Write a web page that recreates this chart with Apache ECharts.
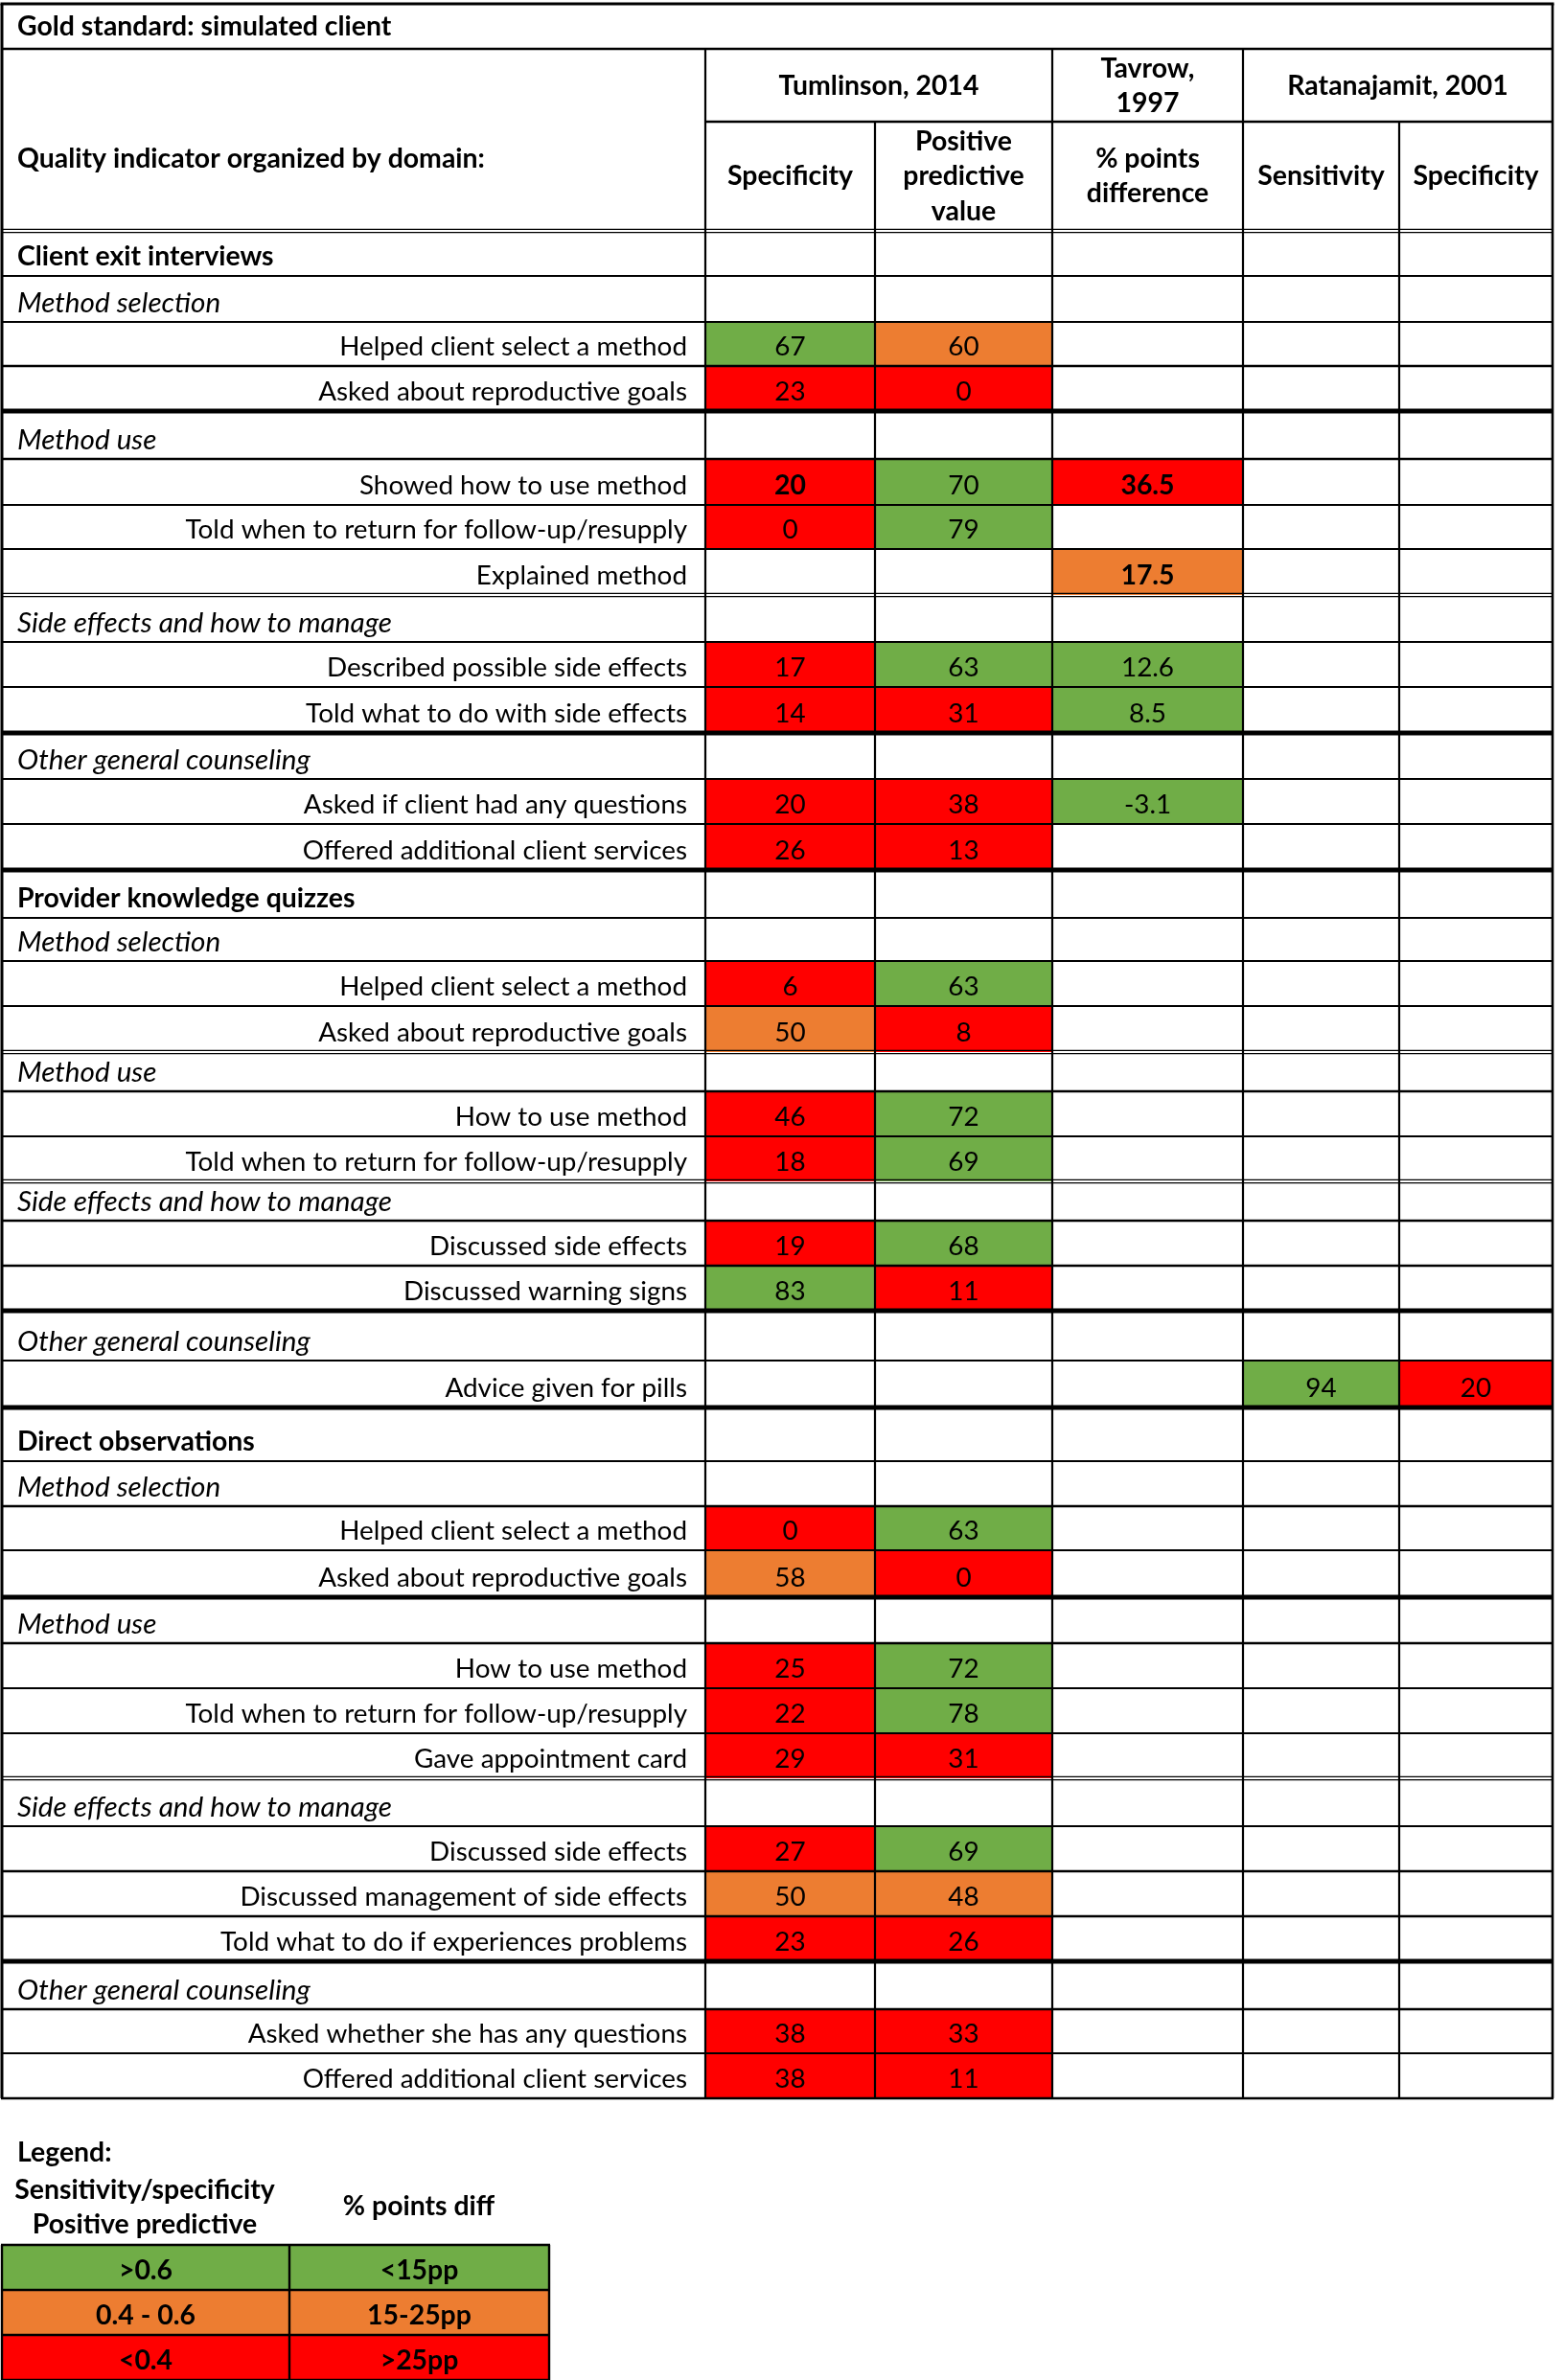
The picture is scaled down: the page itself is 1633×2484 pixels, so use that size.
<!DOCTYPE html>
<html><head><meta charset="utf-8">
<script src="https://cdn.jsdelivr.net/npm/echarts@6/dist/echarts.min.js"></script>
<style>html,body{margin:0;padding:0;background:#fff}#chart{width:1633px;height:2484px}</style>
</head><body><div id="chart"></div>
<script>
// ================= DATA =================
const tableTitle = 'Gold standard: simulated client';
const indicatorHeader = 'Quality indicator organized by domain:';
const studies = ['Tumlinson, 2014', 'Tavrow,\n1997', 'Ratanajamit, 2001'];
const measures = ['Specificity', 'Positive\npredictive\nvalue', '% points\ndifference', 'Sensitivity', 'Specificity'];

const indicators = [
  'Client exit interviews', 'Method selection', 'Helped client select a method', 'Asked about reproductive goals',
  'Method use', 'Showed how to use method', 'Told when to return for follow-up/resupply', 'Explained method',
  'Side effects and how to manage', 'Described possible side effects', 'Told what to do with side effects',
  'Other general counseling', 'Asked if client had any questions', 'Offered additional client services',
  'Provider knowledge quizzes', 'Method selection', 'Helped client select a method', 'Asked about reproductive goals',
  'Method use', 'How to use method', 'Told when to return for follow-up/resupply',
  'Side effects and how to manage', 'Discussed side effects', 'Discussed warning signs',
  'Other general counseling', 'Advice given for pills',
  'Direct observations', 'Method selection', 'Helped client select a method', 'Asked about reproductive goals',
  'Method use', 'How to use method', 'Told when to return for follow-up/resupply', 'Gave appointment card',
  'Side effects and how to manage', 'Discussed side effects', 'Discussed management of side effects',
  'Told what to do if experiences problems',
  'Other general counseling', 'Asked whether she has any questions', 'Offered additional client services'
];
// D = domain, S = sub-domain, I = indicator
const indicatorLevel = 'DSIISIIISIISIIDSIISIISIISIDSIISIIISIIISII'.split('');

const n = null;
const tumlinsonSpecificity = [n,n,67,23,n,20,0,n,n,17,14,n,20,26, n,n,6,50,n,46,18,n,19,83,n,n, n,n,0,58,n,25,22,29,n,27,50,23,n,38,38];
const tumlinsonPPV         = [n,n,60,0,n,70,79,n,n,63,31,n,38,13, n,n,63,8,n,72,69,n,68,11,n,n, n,n,63,0,n,72,78,31,n,69,48,26,n,33,11];
const tavrowPointsDiff     = [n,n,n,n,n,36.5,n,17.5,n,12.6,8.5,n,-3.1,n, n,n,n,n,n,n,n,n,n,n,n,n, n,n,n,n,n,n,n,n,n,n,n,n,n,n,n];
const ratanajamitSensitivity = [n,n,n,n,n,n,n,n,n,n,n,n,n,n, n,n,n,n,n,n,n,n,n,n,n,94, n,n,n,n,n,n,n,n,n,n,n,n,n,n,n];
const ratanajamitSpecificity = [n,n,n,n,n,n,n,n,n,n,n,n,n,n, n,n,n,n,n,n,n,n,n,n,n,20, n,n,n,n,n,n,n,n,n,n,n,n,n,n,n];
const boldValues = [[5, 0], [5, 2], [7, 2]];        // [row, measure]
const shadeOverrides = [[19, 0, 'red']];            // [row, measure, band] as shaded in the source

const legendTitle = 'Legend:';
const legendHeads = ['Sensitivity/specificity\nPositive predictive', '% points diff'];
const legendRatio = ['>0.6', '0.4 - 0.6', '<0.4'];
const legendPoints = ['<15pp', '15-25pp', '>25pp'];
const ratioCuts = [40, 60];   // percent: <40 red, 40-60 orange, >60 green
const pointCuts = [15, 25];   // pp: <15 green, 15-25 orange, >25 red

// ================= LAYOUT / STYLE =================
const COL = { green: '#70AD47', orange: '#ED7D31', red: '#FF0000', ink: '#000000' };
const L = {
  left: 2, top: 4, width: 1618, height: 2480,
  colX: [0, 734, 911, 1096, 1295, 1458, 1618],
  titleH: 47, head1H: 76, head2H: 114,
  rowH: [47,48,46,47,50,48,46,48,49,47,48,48,47,48,50,45,47,48,41,47,47,41,47,47,52,49,56,47,46,49,48,47,47,47,50,47,47,47,50,46,47],
  // t thin, m medium, T thick, d double (edge below header, then below each row)
  edgeStyle: 'dttmTmttdttTttTtttdmtdmmTtTtmtTmttdtmmTmtm'.split(''),
  legendTop: 2339, legendRowH: 47, legendColX: [0, 300, 571],
  textDrop: 20, lineGap: 36.5
};
const FAMILY = 'Lato, "Open Sans", sans-serif';
const mctx = document.createElement('canvas').getContext('2d');
function fitSize(text, weight, style, target) {
  mctx.font = style + ' ' + weight + ' 100px ' + FAMILY;
  return 100 * target / mctx.measureText(text).width;
}

function draw() {
  const SZ = {
    reg: fitSize('Helped client select a method', 'normal', 'normal', 363),
    bold: fitSize('Quality indicator organized by domain:', 'bold', 'normal', 488),
    it: fitSize('Side effects and how to manage', 'normal', 'italic', 391)
  };
  const headTop = L.titleH + L.head1H + L.head2H;
  const rowTop = [headTop];
  L.rowH.forEach((h, i) => rowTop.push(rowTop[i] + h));
  const bodyBottom = rowTop[rowTop.length - 1];

  function colorFor(m, r, v) {
    const o = shadeOverrides.find(x => x[0] === r && x[1] === m);
    if (o) return COL[o[2]];
    if (m === 2) return v < pointCuts[0] ? COL.green : (v <= pointCuts[1] ? COL.orange : COL.red);
    return v > ratioCuts[1] ? COL.green : (v >= ratioCuts[0] ? COL.orange : COL.red);
  }
  function txt(api, s, xu, yu, align, size, weight, style) {
    const p = api.coord([xu, yu]);
    return { type: 'text', z2: 10, style: { text: s, x: p[0], y: p[1], align: align, verticalAlign: 'middle',
      fill: COL.ink, fontSize: size, fontFamily: FAMILY, fontWeight: weight, fontStyle: style || 'normal' } };
  }
  function multi(api, s, xu, yc, align, size, weight) {
    const parts = s.split('\n');
    return parts.map((t, i) => txt(api, t, xu, yc + (i - (parts.length - 1) / 2) * L.lineGap, align, size, weight));
  }
  function rect(api, x0, y0, x1, y1, fill) {
    const a = api.coord([x0, y0]), b = api.coord([x1, y1]);
    return { type: 'rect', shape: { x: Math.min(a[0], b[0]), y: Math.min(a[1], b[1]),
      width: Math.abs(b[0] - a[0]), height: Math.abs(b[1] - a[1]) }, style: { fill: fill } };
  }

  // value cells
  const measureArrays = [tumlinsonSpecificity, tumlinsonPPV, tavrowPointsDiff, ratanajamitSensitivity, ratanajamitSpecificity];
  const cellData = [];
  measureArrays.forEach((arr, m) => arr.forEach((v, r) => {
    if (v !== null) {
      const b = boldValues.some(bv => bv[0] === r && bv[1] === m) ? 1 : 0;
      cellData.push([m, r, v, b]);
    }
  }));

  // lines
  const lines = [];
  const X0 = L.colX[0], X1 = L.colX[6];
  const W = { t: 1.8, m: 2.6, T: 5 };
  L.edgeStyle.forEach((s, i) => {
    const y = rowTop[i];
    if (s === 'd') { lines.push([X0, y - 1.6, X1, y - 1.6, 1.3]); lines.push([X0, y + 1.6, X1, y + 1.6, 1.3]); }
    else lines.push([X0 - 1, y, X1 + 1, y, W[s]]);
  });
  lines.push([X0 - 1.5, 0, X1 + 1.5, 0, 3]);
  lines.push([X0, L.titleH, X1, L.titleH, 2.6]);
  lines.push([L.colX[1], L.titleH + L.head1H, X1, L.titleH + L.head1H, 2.6]);
  const vStart = [0, L.titleH, L.titleH + L.head1H, L.titleH, L.titleH, L.titleH + L.head1H, 0];
  const vW = [3, 2.2, 2.2, 2.2, 2.2, 2.2, 2.6];
  L.colX.forEach((x, k) => lines.push([x, vStart[k], x, bodyBottom, vW[k]]));
  // legend box lines
  const lgY = [0, 1, 2, 3].map(i => L.legendTop + i * L.legendRowH);
  lgY.forEach(y => lines.push([L.legendColX[0] - 1, y, L.legendColX[2] + 1, y, 2.4]));
  L.legendColX.forEach(x => lines.push([x, lgY[0], x, lgY[3], 2.4]));

  // header cells
  const headerCells = [
    { s: tableTitle, x: 16, y: L.titleH / 2 + 0.5, align: 'left' },
    { s: indicatorHeader, x: 16, y: L.titleH + (L.head1H + L.head2H) / 2 + 20, align: 'left' },
    { s: studies[0], x: (L.colX[1] + L.colX[3]) / 2, y: L.titleH + L.head1H / 2 + 1 },
    { s: studies[1], x: (L.colX[3] + L.colX[4]) / 2, y: L.titleH + L.head1H / 2 + 1 },
    { s: studies[2], x: (L.colX[4] + L.colX[6]) / 2, y: L.titleH + L.head1H / 2 + 1 }
  ];
  measures.forEach((m, i) => headerCells.push({ s: m, x: (L.colX[i + 1] + L.colX[i + 2]) / 2, y: L.titleH + L.head1H + L.head2H / 2 }));

  // legend items
  const legendItems = [
    { s: legendTitle, x: 16, y: 2243, align: 'left' },
    { s: legendHeads[0], x: 149, y: 2300 },
    { s: legendHeads[1], x: 435, y: 2299 }
  ];
  const legendFills = [COL.green, COL.orange, COL.red];

  const chart = echarts.init(document.getElementById('chart'), null, { renderer: 'canvas' });
  chart.setOption({
    animation: false,
    backgroundColor: '#ffffff',
    grid: { left: L.left, top: L.top, width: L.width, height: L.height },
    xAxis: { type: 'value', min: 0, max: L.width, show: false },
    yAxis: { type: 'value', min: 0, max: L.height, inverse: true, show: false },
    series: [
      { type: 'custom', name: 'cells', z: 2, silent: true, data: cellData,
        renderItem: (p, api) => {
          const m = api.value(0), r = api.value(1), v = api.value(2), b = api.value(3);
          const c = m + 1;
          return { type: 'group', children: [
            rect(api, L.colX[c], rowTop[r], L.colX[c + 1], rowTop[r + 1], colorFor(m, r, v)),
            txt(api, String(v), (L.colX[c] + L.colX[c + 1]) / 2, rowTop[r + 1] - L.textDrop, 'center',
                b ? SZ.bold : SZ.reg, b ? 'bold' : 'normal')
          ] };
        } },
      { type: 'custom', name: 'indicators', z: 3, silent: true, data: indicators.map((s, i) => [i, 0]),
        renderItem: (p, api) => {
          const r = api.value(0), lv = indicatorLevel[r], s = indicators[r];
          const y = rowTop[r + 1] - L.textDrop;
          if (lv === 'D') return txt(api, s, 16, y, 'left', SZ.bold, 'bold');
          if (lv === 'S') return txt(api, s, 16, y, 'left', SZ.it, 'normal', 'italic');
          return txt(api, s, L.colX[1] - 19, y, 'right', SZ.reg, 'normal');
        } },
      { type: 'custom', name: 'header', z: 3, silent: true, data: headerCells.map((h, i) => [i, 0]),
        renderItem: (p, api) => {
          const h = headerCells[api.value(0)];
          return { type: 'group', children: multi(api, h.s, h.x, h.y, h.align || 'center', SZ.bold, 'bold') };
        } },
      { type: 'custom', name: 'legend', z: 2, silent: true,
        data: legendRatio.map((s, i) => [i, 0]),
        renderItem: (p, api) => {
          const i = api.value(0);
          const y0 = L.legendTop + i * L.legendRowH, y1 = y0 + L.legendRowH;
          const ch = [];
          ch.push(rect(api, L.legendColX[0], y0, L.legendColX[1], y1, legendFills[i]));
          ch.push(rect(api, L.legendColX[1], y0, L.legendColX[2], y1, legendFills[i]));
          ch.push(txt(api, legendRatio[i], (L.legendColX[0] + L.legendColX[1]) / 2, y1 - L.textDrop, 'center', SZ.bold, 'bold'));
          ch.push(txt(api, legendPoints[i], (L.legendColX[1] + L.legendColX[2]) / 2, y1 - L.textDrop, 'center', SZ.bold, 'bold'));
          return { type: 'group', children: ch };
        } },
      { type: 'custom', name: 'legendText', z: 3, silent: true, data: legendItems.map((h, i) => [i, 0]),
        renderItem: (p, api) => {
          const h = legendItems[api.value(0)];
          return { type: 'group', children: multi(api, h.s, h.x, h.y, h.align || 'center', SZ.bold, 'bold') };
        } },
      { type: 'custom', name: 'rules', z: 5, silent: true, data: lines,
        renderItem: (p, api) => {
          const a = api.coord([api.value(0), api.value(1)]), b = api.coord([api.value(2), api.value(3)]);
          return { type: 'line', shape: { x1: a[0], y1: a[1], x2: b[0], y2: b[1] },
            style: { stroke: COL.ink, lineWidth: api.value(4) } };
        } }
    ]
  });
}
if (document.fonts && document.fonts.load) {
  Promise.all([document.fonts.load('27px Lato'), document.fonts.load('bold 27px Lato'), document.fonts.load('italic 27px Lato')])
    .then(draw, draw);
} else { draw(); }
</script>
</body></html>
